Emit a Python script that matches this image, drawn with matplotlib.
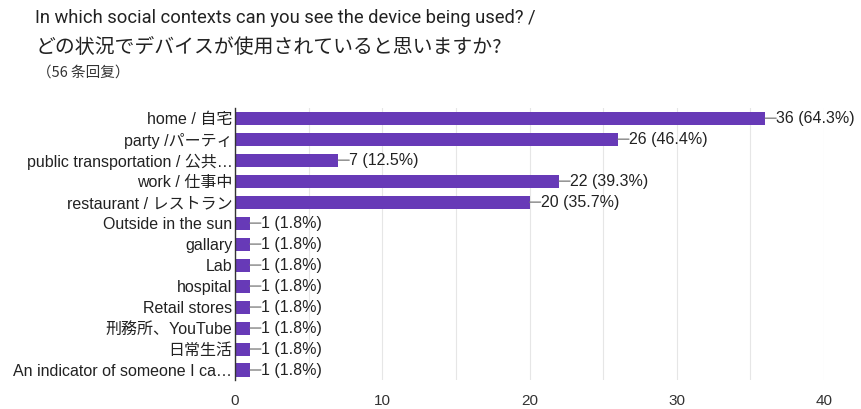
import matplotlib
matplotlib.use("Agg")
import matplotlib.pyplot as plt
from matplotlib.ticker import MultipleLocator

categories = ["home / 自宅", "party /パーティ", "public transportation / 公共…",
              "work / 仕事中", "restaurant / レストラン", "Outside in the sun",
              "gallary", "Lab", "hospital", "Retail stores", "刑務所、YouTube",
              "日常生活", "An indicator of someone I ca…"]
counts = [36, 26, 7, 22, 20, 1, 1, 1, 1, 1, 1, 1, 1]
pcts = ["64.3%", "46.4%", "12.5%", "39.3%", "35.7%", "1.8%", "1.8%", "1.8%",
        "1.8%", "1.8%", "1.8%", "1.8%", "1.8%"]
xticks = [0, 10, 20, 30, 40]

FAM = ["Liberation Sans", "Noto Sans CJK JP", "DejaVu Sans"]
plt.rcParams['font.family'] = FAM

fig = plt.figure(figsize=(8.61, 4.09), dpi=100)
ax = fig.add_axes([0.273, 0.0697, 0.684, 0.667])

y = list(range(len(categories)))
ax.barh(y, counts, height=0.62, color="#673ab7", zorder=3)
ax.set_ylim(len(categories) - 0.5, -0.5)
ax.set_xlim(0, 40)
ax.set_yticks(y)
ax.set_yticklabels(categories, fontsize=11.5, color="#222222")
ax.set_xticks(xticks)
ax.set_xticklabels([str(t) for t in xticks], fontsize=11, color="#333333")
ax.xaxis.set_minor_locator(MultipleLocator(5))
ax.grid(axis="x", which="both", color="#e6e6e6", linewidth=0.8, zorder=0)
ax.tick_params(axis="both", which="both", length=0, pad=2)
ax.tick_params(axis="x", pad=10)
for s in ["top", "right", "bottom"]:
    ax.spines[s].set_visible(False)
ax.spines["left"].set_color("#333333")
ax.spines["left"].set_linewidth(1.0)
ax.spines["left"].set_zorder(4)

for yi, c, p in zip(y, counts, pcts):
    ax.annotate("", xy=(c, yi), xytext=(8, 0), textcoords="offset points",
                arrowprops=dict(arrowstyle="-", color="#777777", lw=0.9,
                                shrinkA=0, shrinkB=0))
    ax.annotate(f"{c} ({p})", xy=(c, yi), xytext=(8, 0), textcoords="offset points",
                va="center", ha="left", fontsize=11.5, color="#222222")

fig.text(0.041, 0.955, "In which social contexts can you see the device being used? /",
         fontsize=13.2, color="#222222", va="center", family=["Roboto", "Noto Sans CJK JP"])
fig.text(0.041, 0.885, "どの状況でデバイスが使用されていると思いますか?",
         fontsize=14.3, color="#222222", va="center", family=["Noto Sans CJK JP", "DejaVu Sans"])
fig.text(0.043, 0.822, "（56 条回复）", fontsize=10.5, color="#333333", va="center",
         family=["Noto Sans CJK SC", "DejaVu Sans"])

fig.savefig("out.png", dpi=100, facecolor="white")
